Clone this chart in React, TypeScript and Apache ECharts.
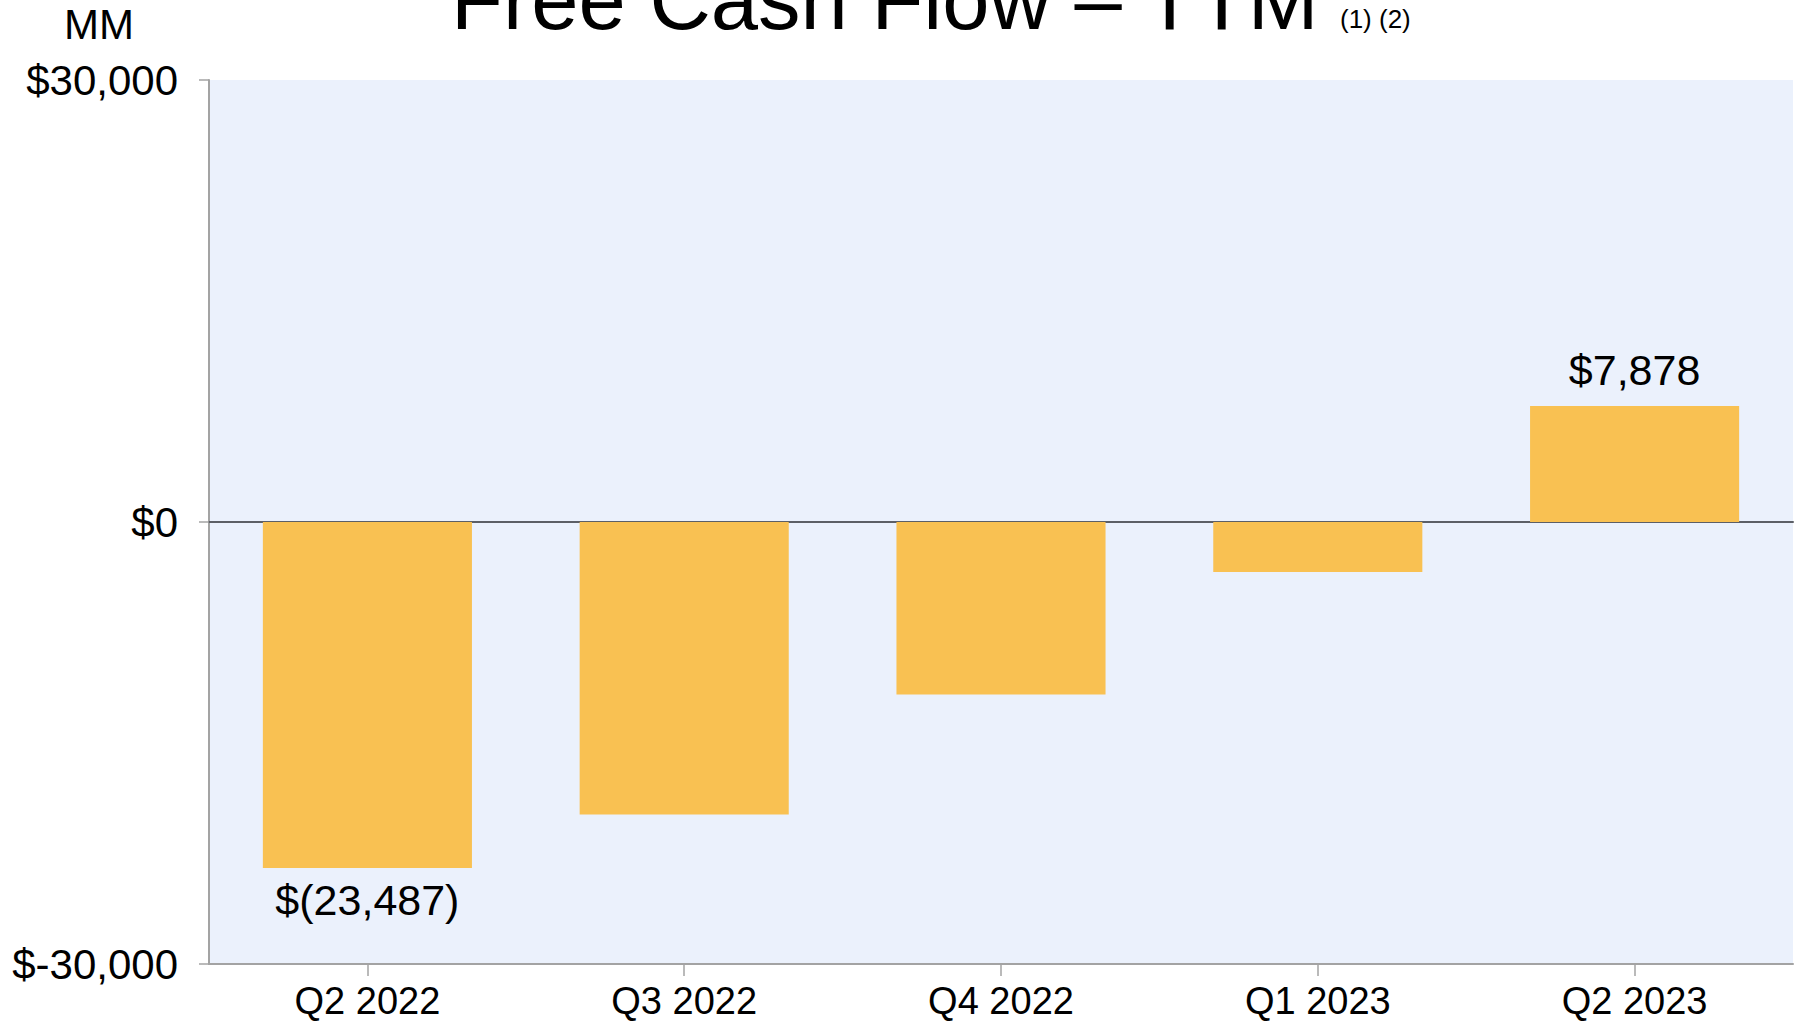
import React, { useEffect, useRef } from "react";
import * as echarts from "echarts";

const categories = ["Q2 2022", "Q3 2022", "Q4 2022", "Q1 2023", "Q2 2023"];
const fcfValues = [-23487, -19850, -11700, -3400, 7878];
const labeledIndices = [0, 4];
const yMin = -30000;
const yMax = 30000;
const yInterval = 30000;
const titleText = "Free Cash Flow \u2013 TTM";
const footnoteText = "(1) (2)";
const unitText = "MM";

const FONT = "'Liberation Sans', Arial, sans-serif";
const BAR_COLOR = "#F9C152";
const BG_COLOR = "#EBF1FC";
const AXIS_GRAY = "#a3a3a3";

const fmtNum = (v: number) => Math.abs(v).toLocaleString("en-US");
const fmtLabel = (v: number) => (v < 0 ? `$(${fmtNum(v)})` : `$${fmtNum(v)}`);
const fmtAxis = (v: number) => "$" + v.toLocaleString("en-US");

export default function App() {
  const ref = useRef<HTMLDivElement>(null);
  useEffect(() => {
    if (!ref.current) return;
    const chart = echarts.init(ref.current, null, { renderer: "svg" });
    const data = fcfValues.map((v, i) => ({
      value: v,
      label: labeledIndices.includes(i)
        ? {
            show: true,
            position: v < 0 ? "bottom" : "top",
            distance: v < 0 ? 10 : 14,
            formatter: () => fmtLabel(v),
            color: "#000",
            fontSize: 43,
            fontFamily: FONT,
          }
        : { show: false },
    }));
    chart.setOption({
      animation: false,
      backgroundColor: "#ffffff",
      textStyle: { fontFamily: FONT },
      grid: {
        left: 209,
        top: 80,
        width: 1584,
        height: 884,
        show: true,
        backgroundColor: BG_COLOR,
        borderWidth: 0,
        containLabel: false,
      },
      xAxis: [
        {
          type: "category",
          data: categories,
          position: "bottom",
          axisLine: { show: true, onZero: false, lineStyle: { color: AXIS_GRAY, width: 2 } },
          axisTick: { show: true, alignWithLabel: true, length: 12, lineStyle: { color: AXIS_GRAY, width: 1.5 } },
          axisLabel: { show: true, color: "#000", fontSize: 38, fontFamily: FONT, margin: 18 },
          splitLine: { show: false },
        },
        {
          type: "category",
          data: categories,
          position: "top",
          axisLine: { show: true, onZero: true, lineStyle: { color: "#5c5f66", width: 2 } },
          axisTick: { show: false },
          axisLabel: { show: false },
          splitLine: { show: false },
        },
      ],
      yAxis: {
        type: "value",
        min: yMin,
        max: yMax,
        interval: yInterval,
        axisLine: { show: true, lineStyle: { color: AXIS_GRAY, width: 2 } },
        axisTick: { show: true, length: 10, lineStyle: { color: AXIS_GRAY, width: 1.5 } },
        axisLabel: {
          show: true,
          color: "#000",
          fontSize: 42,
          fontFamily: FONT,
          margin: 31,
          formatter: (v: number) => fmtAxis(v),
        },
        splitLine: { show: false },
      },
      series: [
        {
          type: "bar",
          xAxisIndex: 0,
          data,
          barCategoryGap: "34%",
          itemStyle: { color: BAR_COLOR },
        },
      ],
      graphic: [
        {
          type: "text",
          x: 451,
          y: -1,
          style: {
            text: titleText,
            fontSize: 85,
            fontFamily: FONT,
            fill: "#000",
            align: "left",
            verticalAlign: "middle",
          },
        },
        {
          type: "text",
          x: 1340,
          y: 19,
          style: {
            text: footnoteText,
            fontSize: 26,
            fontFamily: FONT,
            fill: "#000",
            align: "left",
            verticalAlign: "middle",
          },
        },
        {
          type: "text",
          x: 99,
          y: 24.5,
          style: {
            text: unitText,
            fontSize: 42,
            fontFamily: FONT,
            fill: "#000",
            align: "center",
            verticalAlign: "middle",
          },
        },
      ],
    });
    return () => chart.dispose();
  }, []);
  return (
    <div
      ref={ref}
      style={{ position: "fixed", left: 0, top: 0, width: 1798, height: 1021 }}
    />
  );
}
